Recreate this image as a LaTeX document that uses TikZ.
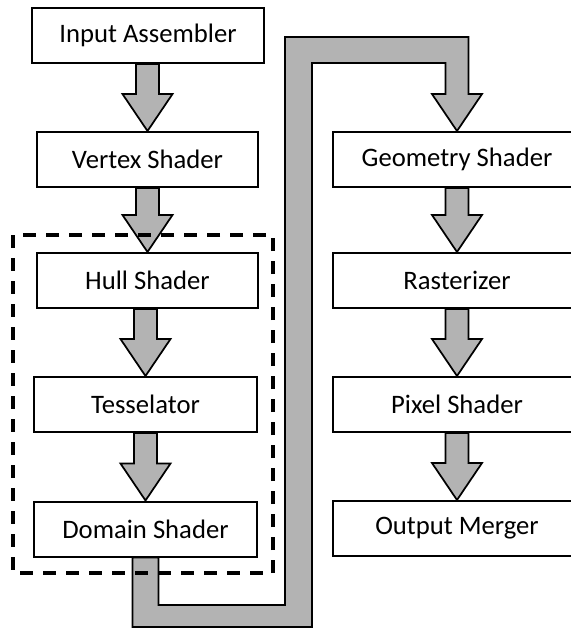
\documentclass[tikz,border=0pt]{standalone}
\usepackage{fontspec}
\setmainfont{Carlito}
\usetikzlibrary{calc}
\definecolor{pipeGray}{RGB}{179,179,179}

% block arrow from the bottom of #1 down to the top of #2
\newcommand{\stagearrow}[2]{%
  \draw[pipe] ($(#1.south -| #2.north)+(-11.5,0)$) -- ($(#2.north)+(-11.5,-37)$)
    -- ($(#2.north)+(-25,-37)$) -- (#2.north) -- ($(#2.north)+(25,-37)$)
    -- ($(#2.north)+(11.5,-37)$) -- ($(#1.south -| #2.north)+(11.5,0)$) -- cycle;}

\begin{document}
\begin{tikzpicture}[x=0.75pt, y=-0.75pt,
    stage/.style={draw=black, line width=1.5pt, fill=white, minimum height=41.25pt, inner sep=0pt, font=\fontsize{20}{23}\selectfont},
    pipe/.style={draw=black, line width=1.3pt, fill=pipeGray, line join=miter},
    group/.style={draw=black, line width=3pt, dash pattern=on 9.75pt off 7.5pt}]
  \useasboundingbox (0,0) rectangle (571,629);

  % Left column
  \node[stage, minimum width=174pt] (ia) at (148,35.5) {Input Assembler};
  \node[stage, minimum width=165.75pt] (vs) at (147.5,159.5) {Vertex Shader};
  \node[stage, minimum width=165.75pt] (hs) at (147.5,280.5) {Hull Shader};
  \node[stage, minimum width=167.25pt] (ts) at (145.5,404.5) {Tesselator};
  \node[stage, minimum width=167.25pt] (ds) at (145.5,529) {Domain Shader};

  % Right column
  \node[stage, minimum width=186pt] (gs) at (457,159.5) {Geometry Shader};
  \node[stage, minimum width=186pt] (rs) at (457,280.5) {Rasterizer};
  \node[stage, minimum width=186pt] (ps) at (457,404.5) {Pixel Shader};
  \node[stage, minimum width=186pt] (om) at (457,528.5) {Output Merger};

  % Arrows
  \stagearrow{ia}{vs}
  \stagearrow{vs}{hs}
  \stagearrow{hs}{ts}
  \stagearrow{ts}{ds}
  \stagearrow{gs}{rs}
  \stagearrow{rs}{ps}
  \stagearrow{ps}{om}

  % Pipe from Domain Shader round to Geometry Shader
  \coordinate (floor) at (0,616);
  \coordinate (ceiling) at (0,50);
  \coordinate (riser) at (298.5,0);
  \draw[pipe] ($(ds.south)+(-13,0)$) -- ($(ds.south |- floor)+(-13,11)$)
    -- ($(riser |- floor)+(13.5,11)$) -- ($(riser |- ceiling)+(13.5,13)$)
    -- ($(gs.north |- ceiling)+(-11.5,13)$) -- ($(gs.north)+(-11.5,-37)$)
    -- ($(gs.north)+(-25,-37)$) -- (gs.north) -- ($(gs.north)+(25,-37)$)
    -- ($(gs.north)+(11.5,-37)$) -- ($(gs.north |- ceiling)+(11.5,-13)$)
    -- ($(riser |- ceiling)+(-13.5,-13)$) -- ($(riser |- floor)+(-13.5,-11)$)
    -- ($(ds.south |- floor)+(13,-11)$) -- ($(ds.south)+(13,0)$) -- cycle;

  % Tessellation stages
  \draw[group] (13,235) rectangle (273,573);
\end{tikzpicture}
\end{document}
